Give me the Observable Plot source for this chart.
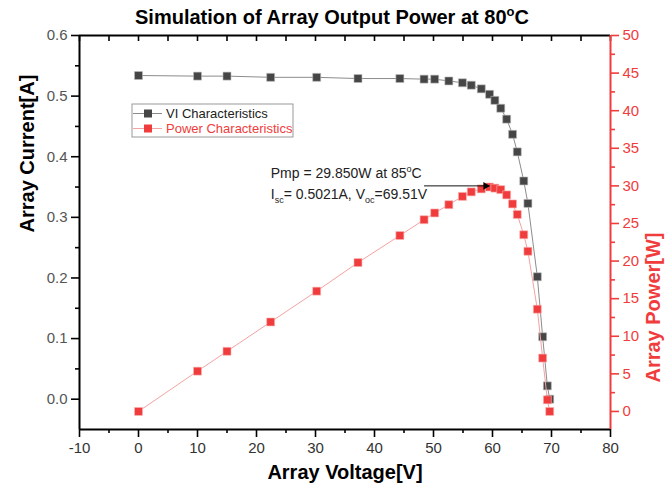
<!DOCTYPE html>
<html><head><meta charset="utf-8">
<script src="https://cdn.jsdelivr.net/npm/d3@7"></script>
<script src="https://cdn.jsdelivr.net/npm/@observablehq/plot@0.6"></script>
<style>body{margin:0;background:#fff}</style>
</head><body><div id="chart"></div>
<script>
// ---- data ----
const voltage = [0, 10, 15, 22.4, 30.2, 37.2, 44.3, 48.4, 50.2, 52.6, 54.9, 56.4, 58.1, 59.5, 60.4, 61.4, 62.4, 63.4, 64.2, 65.3, 66.0, 67.6, 68.5, 69.3, 69.7];
const current = [0.534, 0.533, 0.533, 0.531, 0.531, 0.529, 0.529, 0.528, 0.528, 0.525, 0.522, 0.518, 0.512, 0.503, 0.493, 0.480, 0.462, 0.437, 0.408, 0.360, 0.323, 0.202, 0.103, 0.022, 0.000];
const power   = [0, 5.36, 8.0, 11.9, 16.0, 19.8, 23.4, 25.5, 26.4, 27.5, 28.6, 29.2, 29.6, 29.85, 29.7, 29.5, 28.8, 27.6, 26.2, 23.5, 21.3, 13.6, 7.1, 1.55, 0];
const seriesNames = ["VI Characteristics", "Power Characteristics"];
const xTicks = [-10, 0, 10, 20, 30, 40, 50, 60, 70, 80];
const xMinor = [-5, 5, 15, 25, 35, 45, 55, 65, 75];
const yTicks = [0, 0.1, 0.2, 0.3, 0.4, 0.5, 0.6];
const yMinor = [0.05, 0.15, 0.25, 0.35, 0.45, 0.55];
const pTicks = [0, 5, 10, 15, 20, 25, 30, 35, 40, 45, 50];
const pMinor = [2.5, 7.5, 12.5, 17.5, 22.5, 27.5, 32.5, 37.5, 42.5, 47.5];
const xDomain = [-10, 80];
const yDomain = [-0.05, 0.6];
const pDomain = [-2.4, 50];
// annotation
const pmp = {v: 59.5, p: 29.85, arrowFromV: 48.4, arrowP: 30.0};
const noteX = 22.5, noteY1 = 0.372, noteY2 = 0.338;

const RED = "#f03c3c";
const toY = p => yDomain[0] + (p - pDomain[0]) * (yDomain[1] - yDomain[0]) / (pDomain[1] - pDomain[0]);
const fromY = y => pDomain[0] + (y - yDomain[0]) * (pDomain[1] - pDomain[0]) / (yDomain[1] - yDomain[0]);

const vi = voltage.map((v, i) => ({v, c: current[i]}));
const pw = voltage.map((v, i) => ({v, p: power[i]}));

const plot = Plot.plot({
  width: 665, height: 494,
  marginLeft: 79, marginRight: 55, marginTop: 35, marginBottom: 65,
  style: {fontFamily: "'Liberation Sans', Arial, sans-serif", background: "#fff"},
  x: {domain: xDomain, axis: null},
  y: {domain: yDomain, axis: null},
  marks: [
    // axes
    Plot.axisX(xTicks, {anchor: "bottom", tickSize: 8, tickPadding: 5, fontSize: 15, stroke: "#000", fill: "#333", strokeWidth: 1.6, tickFormat: d => String(d), label: null}),
    Plot.axisX(xMinor, {anchor: "bottom", tickSize: 4, stroke: "#000", strokeWidth: 1.6, tickFormat: () => "", label: null}),
    Plot.ruleX(xTicks.concat(xMinor), {y1: yDomain[1], y2: yDomain[1] - (yDomain[1] - yDomain[0]) * 6 / 394, stroke: "#000", strokeWidth: 1.6}),
    Plot.axisY(yTicks, {anchor: "left", tickSize: 8, tickPadding: 4, fontSize: 15, stroke: "#000", fill: "#555", strokeWidth: 1.6, tickFormat: d3.format(".1f"), label: null}),
    Plot.axisY(yMinor, {anchor: "left", tickSize: 4, stroke: "#000", strokeWidth: 1.6, tickFormat: () => "", label: null}),
    Plot.axisY(pTicks.map(toY), {anchor: "right", tickSize: 8, tickPadding: 4, fontSize: 15, stroke: RED, fill: RED, strokeWidth: 1.6, tickFormat: d => String(Math.round(fromY(d))), label: null}),
    Plot.axisY(pMinor.map(toY), {anchor: "right", tickSize: 4, stroke: RED, strokeWidth: 1.6, tickFormat: () => "", label: null}),
    Plot.ruleX([xDomain[0]], {stroke: "#000", strokeWidth: 2}),
    Plot.ruleY([yDomain[0]], {stroke: "#000", strokeWidth: 2}),
    Plot.ruleY([yDomain[1]], {stroke: "#000", strokeWidth: 2}),
    Plot.ruleX([xDomain[1]], {stroke: RED, strokeWidth: 2}),
    // axis titles
    Plot.text(["Array Voltage[V]"], {frameAnchor: "bottom", dy: 49, fontSize: 20, fontWeight: "bold", fill: "#000"}),
    Plot.text(["Array Current[A]"], {frameAnchor: "left", dx: -52, rotate: -90, fontSize: 20, fontWeight: "bold", fill: "#000"}),
    Plot.text(["Array Power[W]"], {frameAnchor: "right", dx: 43, rotate: -90, fontSize: 20, fontWeight: "bold", fill: RED}),
    // series
    Plot.line(vi, {x: "v", y: "c", stroke: "#8c8c8c", strokeWidth: 1}),
    Plot.dot(vi, {x: "v", y: "c", symbol: "square", r: 4.5, fill: "#464646", stroke: "#bbb", strokeWidth: 0.6}),
    Plot.line(pw, {x: "v", y: d => toY(d.p), stroke: "#f4a2a2", strokeWidth: 1}),
    Plot.dot(pw, {x: "v", y: d => toY(d.p), symbol: "square", r: 4.5, fill: RED, stroke: "#f9b5b5", strokeWidth: 0.6}),
    // annotation arrow
    Plot.link([pmp], {x1: "arrowFromV", x2: "v", y1: d => toY(d.arrowP), y2: d => toY(d.arrowP), stroke: "#111", strokeWidth: 1}),
    Plot.dot([pmp], {x: "v", y: d => toY(d.arrowP), dx: -4, symbol: "triangle2", rotate: 90, r: 3.6, fill: "#000"})
  ]
});

document.getElementById("chart").appendChild(plot);

const svg = d3.select(plot);
const sx = plot.scale("x"), sy = plot.scale("y");
// title
const t = svg.append("text").attr("x", 332).attr("y", 24).attr("text-anchor", "middle")
  .attr("font-size", 20).attr("font-weight", "bold").attr("fill", "#000");
t.append("tspan").text("Simulation of Array Output Power at 80");
t.append("tspan").attr("font-size", 13).attr("dy", -8).text("o");
t.append("tspan").attr("dy", 8).text("C");

// annotation texts
const n1 = svg.append("text").attr("x", sx.apply(noteX)).attr("y", sy.apply(noteY1) + 5)
  .attr("text-anchor", "start").attr("font-size", 14).attr("fill", "#222");
n1.append("tspan").text("Pmp = 29.850W at 85");
n1.append("tspan").attr("font-size", 9).attr("dy", -6).text("o");
n1.append("tspan").attr("dy", 6).text("C");
const n2 = svg.append("text").attr("x", sx.apply(noteX)).attr("y", sy.apply(noteY2) + 5)
  .attr("text-anchor", "start").attr("font-size", 14).attr("fill", "#222");
n2.append("tspan").text("I");
n2.append("tspan").attr("font-size", 9).attr("dy", 4).text("sc");
n2.append("tspan").attr("dy", -4).text("= 0.5021A, V");
n2.append("tspan").attr("font-size", 9).attr("dy", 4).text("oc");
n2.append("tspan").attr("dy", -4).text("=69.51V");

// legend
const lg = svg.append("g");
lg.append("rect").attr("x", 132).attr("y", 104).attr("width", 161).attr("height", 33)
  .attr("fill", "#fff").attr("stroke", "#999").attr("stroke-width", 1);
const items = [
  {name: seriesNames[0], line: "#8c8c8c", fill: "#464646", text: "#222", y: 113.5},
  {name: seriesNames[1], line: "#f4a2a2", fill: RED, text: RED, y: 128.5}
];
for (const it of items) {
  lg.append("line").attr("x1", 133).attr("x2", 162).attr("y1", it.y).attr("y2", it.y).attr("stroke", it.line).attr("stroke-width", 1);
  lg.append("rect").attr("x", 144).attr("y", it.y - 4).attr("width", 8).attr("height", 8).attr("fill", it.fill);
  lg.append("text").attr("x", 166).attr("y", it.y).attr("dy", "0.35em").attr("text-anchor", "start")
    .attr("font-size", 13).attr("fill", it.text).text(it.name);
}
</script>
</body></html>
